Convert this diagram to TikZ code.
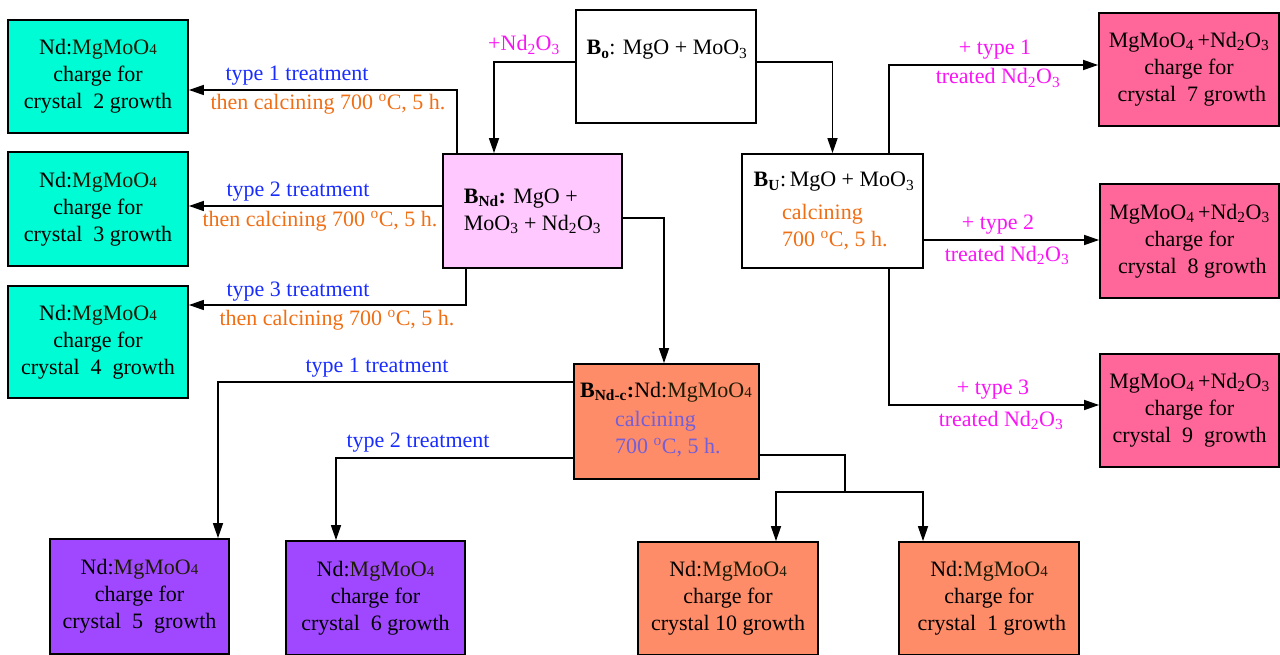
\documentclass[tikz,border=0pt]{standalone}
\usepackage{fontspec}
\setmainfont{Liberation Serif}
\usetikzlibrary{arrows.meta}
\definecolor{cyanbox}{RGB}{0,252,212}
\definecolor{pinkbox}{RGB}{255,200,255}
\definecolor{rosebox}{RGB}{255,102,153}
\definecolor{salmonbox}{RGB}{255,140,105}
\definecolor{purplebox}{RGB}{160,72,255}
\definecolor{bluetxt}{RGB}{25,45,255}
\definecolor{orangetxt}{RGB}{240,110,20}
\definecolor{magtxt}{RGB}{250,20,245}
\definecolor{violettxt}{RGB}{115,95,215}
\definecolor{olivetxt}{RGB}{30,28,5}
\newcommand{\mgmo}{{\color{olivetxt}MgMoO{\fontsize{15}{15}\selectfont 4}}}
\newcommand{\ndo}{Nd\textsubscript{2}O\textsubscript{3}}
\newcommand{\degc}{\textsuperscript{o}C}
\begin{document}
\begin{tikzpicture}[x=1pt,y=-1pt,
  box/.style={draw, line width=1.8pt, inner sep=0pt, align=center,
    font=\fontsize{22}{27}\selectfont},
  conn/.style={line width=1.6pt, -{Triangle[length=15pt,width=10pt]}},
  plain/.style={line width=1.6pt},
  lab/.style={inner sep=0pt, font=\fontsize{22}{27}\selectfont, align=center}]
\useasboundingbox (0,0) rectangle (1280,655);

% left cyan boxes
\node[box, fill=cyanbox, minimum width=180pt, minimum height=113pt] (c2) at (98,76.5)
  {Nd:\mgmo\\charge for\\crystal\ \ 2 growth};
\node[box, fill=cyanbox, minimum width=180pt, minimum height=114pt] (c3) at (98,209)
  {Nd:\mgmo\\charge for\\crystal\ \ 3 growth};
\node[box, fill=cyanbox, minimum width=180pt, minimum height=112pt] (c4) at (98,342)
  {Nd:\mgmo\\charge for\\crystal\ \ 4\ \ growth};

% central boxes
\node[box, fill=white, minimum width=180pt, minimum height=113pt] (b0) at (666,66.5) {};
\node[lab] (b0t) at (667,50) {\textbf{B\textsubscript{o}}: MgO + MoO\textsubscript{3}};

\node[box, fill=pinkbox, minimum width=179pt, minimum height=114pt, align=left] (bnd) at (532.5,211)
  {\textbf{B\textsubscript{Nd}:} MgO +\\MoO\textsubscript{3} + \ndo};

\node[box, fill=white, minimum width=181pt, minimum height=114pt] (bu) at (832.5,211) {};
\node[lab] (but) at (834,182) {\textbf{B\textsubscript{U}}:\,MgO + MoO\textsubscript{3}};
\node[lab, anchor=west, align=left, text=orangetxt] (buc) at (782,227) {calcining\\700 \degc, 5 h.};

\node[box, fill=salmonbox, minimum width=185pt, minimum height=115pt] (bndc) at (666.5,421.5) {};
\node[lab] (bndct) at (666,392) {\textbf{B\textsubscript{Nd-c}:}Nd:\mgmo};
\node[lab, anchor=west, align=left, text=violettxt] (bndcc) at (615,434) {calcining\\700 \degc, 5 h.};

% right rose boxes
\node[box, fill=rosebox, minimum width=180pt, minimum height=113pt] (c7) at (1189,69.5)
  {MgMoO\textsubscript{4}\,+\ndo\\charge for\\\ crystal\ \ 7 growth};
\node[box, fill=rosebox, minimum width=179pt, minimum height=114pt] (c8) at (1189.5,241)
  {MgMoO\textsubscript{4}\,+\ndo\\charge for\\\ crystal\ \ 8 growth};
\node[box, fill=rosebox, minimum width=179pt, minimum height=113pt] (c9) at (1189.5,410.5)
  {MgMoO\textsubscript{4}\,+\ndo\\charge for\\crystal\ \ 9\ \ growth};

% bottom boxes
\node[box, fill=purplebox, minimum width=179pt, minimum height=115pt] (c5) at (139.5,596.5)
  {Nd:\mgmo\\charge for\\crystal\ \ 5\ \ growth};
\node[box, fill=purplebox, minimum width=179pt, minimum height=114pt] (c6) at (375.5,598)
  {Nd:\mgmo\\charge for\\crystal\ \ 6 growth};
\node[box, fill=salmonbox, minimum width=180pt, minimum height=113pt] (c10) at (728,598.5)
  {Nd:\mgmo\\charge for\\crystal 10 growth};
\node[box, fill=salmonbox, minimum width=180pt, minimum height=113pt] (c1) at (989,598.5)
  {Nd:\mgmo\\charge for\\\ crystal\ \ 1 growth};

% connectors
\draw[conn] ([yshift=4.5pt]b0.west) -| ([xshift=-38.5pt]bnd.north);
\draw[conn] ([yshift=4.5pt]b0.east) -| (bu.north);
\draw[conn] ([xshift=-75.5pt]bnd.north) |- ([yshift=-13.5pt]c2.east);
\draw[conn] ([yshift=5pt]bnd.west) -- ([yshift=3pt]c3.east);
\draw[conn] ([xshift=-66.5pt]bnd.south) |- ([yshift=37pt]c4.east);
\draw[conn] ([yshift=-7pt]bnd.east) -| ([xshift=-2.5pt]bndc.north);
\draw[conn] ([yshift=39.5pt]bndc.west) -| ([xshift=78.5pt]c5.north);
\draw[conn] ([yshift=-36.5pt]bndc.west) -| ([xshift=-39.5pt]c6.north);
\coordinate (split) at (845,492);
\draw[plain] ([yshift=-33.5pt]bndc.east) -| (split);
\draw[conn] (split) -| ([xshift=48pt]c10.north);
\draw[conn] (split) -| ([xshift=-66pt]c1.north);
\draw[conn] ([xshift=56.5pt]bu.north) |- ([yshift=4.5pt]c7.west);
\draw[conn] ([yshift=-29pt]bu.east) -- ([yshift=1pt]c8.west);
\draw[conn] ([xshift=56.5pt]bu.south) |- ([yshift=5.5pt]c9.west);

% labels
\node[lab, text=magtxt] (l0) at (524,45) {+\ndo};
\node[lab, text=bluetxt] (l1a) at (297,76) {type 1 treatment};
\node[lab, text=orangetxt] (l1b) at (328,104) {then calcining 700 \degc, 5 h.};
\node[lab, text=bluetxt] (l2a) at (298,192) {type 2 treatment};
\node[lab, text=orangetxt] (l2b) at (320,221) {then calcining 700 \degc, 5 h.};
\node[lab, text=bluetxt] (l3a) at (298,292) {type 3 treatment};
\node[lab, text=orangetxt] (l3b) at (337,320) {then calcining 700 \degc, 5 h.};
\node[lab, text=bluetxt] (l5) at (377,368) {type 1 treatment};
\node[lab, text=bluetxt] (l6) at (418,443) {type 2 treatment};
\node[lab, text=magtxt] (l7a) at (995,50) {+ type 1};
\node[lab, text=magtxt] (l7b) at (998,78) {treated \ndo};
\node[lab, text=magtxt] (l8a) at (998,225) {+ type 2};
\node[lab, text=magtxt] (l8b) at (1007,255) {treated \ndo};
\node[lab, text=magtxt] (l9a) at (993,390) {+ type 3};
\node[lab, text=magtxt] (l9b) at (1001,420) {treated \ndo};
\end{tikzpicture}
\end{document}
